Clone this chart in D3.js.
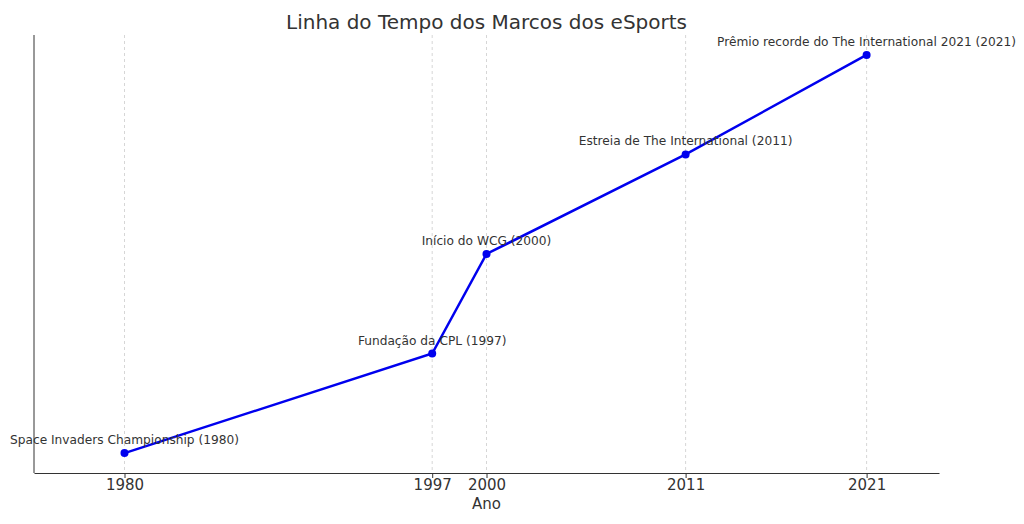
<!DOCTYPE html>
<html><head><meta charset="utf-8">
<script src="https://cdn.jsdelivr.net/npm/d3@7"></script>
<style>body{margin:0;background:#fff}text{font-family:"DejaVu Sans",sans-serif}</style>
</head><body><svg id="c" width="1024" height="524"></svg>
<script>
const years = [1980, 1997, 2000, 2011, 2021];
const events = ["Space Invaders Championship (1980)", "Fundação da CPL (1997)", "Início do WCG (2000)", "Estreia de The International (2011)", "Prêmio recorde do The International 2021 (2021)"];
const levels = [0, 1, 2, 3, 4];

const svg = d3.select("#c");
const m = {l: 34, r: 939, t: 35, b: 473};
const x = d3.scaleLinear().domain([1975, 2025]).range([m.l, m.r]);
const y = d3.scaleLinear().domain([-0.2, 4.2]).range([m.b, m.t]);
const data = years.map((yr, i) => ({yr, ev: events[i], lv: levels[i]}));

// grid
svg.selectAll(".grid").data(years).enter().append("line")
	.attr("x1", d => x(d)).attr("x2", d => x(d)).attr("y1", m.t).attr("y2", m.b)
	.attr("stroke", "#ccc").attr("stroke-dasharray", "3,3").attr("stroke-width", 0.8);

// axes
const xa = svg.append("g").attr("transform", "translate(0," + m.b + ")")
	.call(d3.axisBottom(x).tickValues(years).tickFormat(d3.format("d")).tickSize(5).tickSizeOuter(0));
xa.select(".domain").attr("stroke", "#333");
xa.selectAll("text").attr("font-size", 15).attr("fill", "#333").attr("dy", "0.6em");
xa.selectAll(".tick line").attr("stroke", "#333");
svg.append("line").attr("x1", m.l).attr("x2", m.l).attr("y1", m.t).attr("y2", m.b).attr("stroke", "#333");

svg.append("path").datum(data)
	.attr("d", d3.line().x(d => x(d.yr)).y(d => y(d.lv)))
	.attr("fill", "none").attr("stroke", "#0000ee").attr("stroke-width", 2.5);
svg.selectAll(".pt").data(data).enter().append("circle")
	.attr("cx", d => x(d.yr)).attr("cy", d => y(d.lv)).attr("r", 4).attr("fill", "#0000ee");
svg.selectAll(".lbl").data(data).enter().append("text")
	.attr("x", d => x(d.yr)).attr("y", d => y(d.lv) - 9)
	.attr("text-anchor", "middle").attr("font-size", 12.2).attr("fill", "#333").text(d => d.ev);

svg.append("text").attr("x", (m.l + m.r) / 2).attr("y", 29).attr("text-anchor", "middle")
	.attr("font-size", 20).attr("fill", "#333").text("Linha do Tempo dos Marcos dos eSports");
svg.append("text").attr("x", (m.l + m.r) / 2).attr("y", 509).attr("text-anchor", "middle")
	.attr("font-size", 15).attr("fill", "#333").text("Ano");
</script></body></html>
